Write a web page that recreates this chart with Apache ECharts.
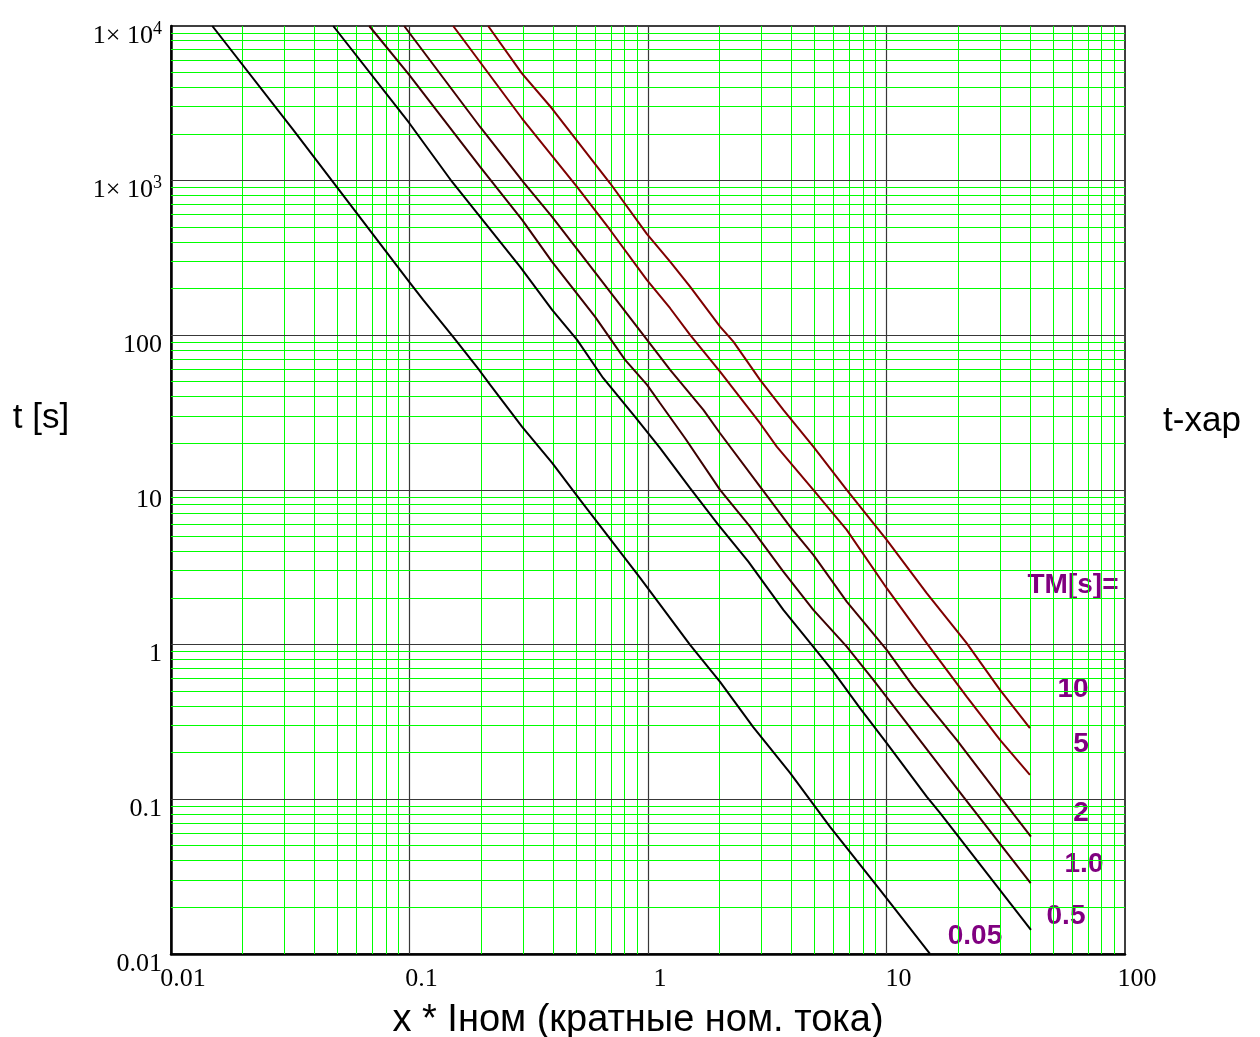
<!DOCTYPE html>
<html>
<head>
<meta charset="utf-8">
<script src="https://cdn.jsdelivr.net/npm/echarts@6/dist/echarts.min.js"></script>
<style>html,body{margin:0;padding:0;background:#fff}#c{width:1260px;height:1037px}</style>
</head>
<body>
<div id="c"></div>
<script>
// ---- data: [x (multiple of Iном), t (s)] ----
const tmNames = ['0.05', '0.5', '1.0', '2', '5', '10'];
const tm005 = [[0.0149,10000],[0.03255,2127],[0.0997,221.4],[0.1141,169.3],[0.1524,97.6],[0.1959,59.7],[0.2180,47.8],[0.2967,25.6],[0.3963,14.97],[0.5192,8.63],[0.9267,2.70],[1.501,0.997],[2.005,0.575],[2.757,0.294],[3.941,0.1484],[5.799,0.0664],[9.394,0.0260],[15.22,0.01003]];
const tm05 = [[0.04789,10000],[0.09971,2360],[0.1510,980.8],[0.1978,582.8],[0.2911,276.8],[0.3963,146.0],[0.5044,93.4],[0.6482,53.0],[0.8829,29.7],[1.124,18.63],[1.501,10.27],[1.973,5.949],[2.635,3.445],[3.694,1.678],[4.859,0.997],[5.984,0.6701],[7.742,0.3886],[10.02,0.2309],[14.74,0.1042],[16.76,0.0818],[40.32,0.01433]];
const tm1 = [[0.0678,10000],[0.09971,4823],[0.1978,1226],[0.2967,557.2],[0.3963,298.2],[0.6004,131.5],[0.8017,69.34],[0.9913,47.8],[1.124,36.4],[1.431,21.61],[2.005,10.01],[2.679,5.800],[3.694,2.968],[4.934,1.678],[6.811,0.972],[8.805,0.5921],[12.95,0.2744],[20.98,0.1042],[40.21,0.02873]];
const tm2 = [[0.09502,10000],[0.1978,2224],[0.2996,980.8],[0.3963,582.8],[0.5889,264.7],[0.9913,93.4],[1.238,59.74],[1.707,32.95],[2.005,23.28],[2.950,10.52],[3.941,5.800],[4.934,3.807],[6.811,1.899],[10.02,0.9256],[12.95,0.5361],[19.69,0.2424],[29.91,0.1042],[40.32,0.05747]];
const tm5 = [[0.1525,10000],[0.2959,2532],[0.5031,914.8],[0.6938,480.0],[0.9886,228.1],[1.238,149.7],[1.501,100.6],[2.005,58.26],[2.950,27.03],[3.466,19.08],[4.934,10.01],[6.811,5.522],[10.02,2.318],[14.74,1.023],[21.68,0.4620],[29.91,0.2424],[39.93,0.1440]];
const tm10 = [[0.2137,10000],[0.2959,4945],[0.3951,2938],[0.6938,962.0],[0.9886,452.3],[1.238,299.5],[1.501,206.4],[2.005,113.8],[2.280,91.07],[2.950,51.48],[3.694,32.95],[4.934,19.08],[6.811,10.01],[10.02,4.757],[14.74,2.152],[21.68,1.023],[29.91,0.5104],[39.93,0.2886]];
const tmColors = ['#000000', '#000000', '#3c0000', '#440000', '#800000', '#800000'];

// tick labels (by decade exponent)
const xTickLabels = {'-2':'0.01', '-1':'0.1', '0':'1', '1':'10', '2':'100'};
const yTickLabels = {'-2':'0.01', '-1':'0.1', '0':'1', '1':'10', '2':'100', '3':'1× 10{sup|3}', '4':'1× 10{sup|4}'};

// texts
const xTitle = 'x * Iном (кратные ном. тока)';
const yTitle = 't [s]';
const rightTitle = 't-xap';
const tmHeader = 'TM[s]=';

const X_MIN = 0.01, X_MAX = 100, Y_MIN = 0.01, Y_MAX = 10000;

const chart = echarts.init(document.getElementById('c'), null, {renderer: 'canvas'});

// grid lines: decades (major) and 2..9 (minor)
const gridX = [], gridY = [];
for (let d = -2; d <= 1; d++) for (let k = 2; k <= 9; k++) gridX.push([k * Math.pow(10, d), 1, 0]);
for (let d = -1; d <= 1; d++) gridX.push([Math.pow(10, d), 1, 1]);
for (let d = -2; d <= 3; d++) for (let k = 2; k <= 9; k++) gridY.push([1, k * Math.pow(10, d), 0]);
for (let d = -1; d <= 3; d++) gridY.push([1, Math.pow(10, d), 1]);

const serif = '"Liberation Serif", "Times New Roman", serif';
const sans = '"Liberation Sans", Arial, sans-serif';
const expOf = v => String(Math.round(Math.log10(v)));
const snap = p => Math.round(p - 0.5) + 0.5;

const gridStyle = major => major ? {stroke: '#383838', lineWidth: 1.2} : {stroke: '#00ff00', lineWidth: 1};

const curves = [tm005, tm05, tm1, tm2, tm5, tm10].map((d, i) => ({
  name: tmNames[i], type: 'line', data: d, showSymbol: false, smooth: false, z: 3,
  lineStyle: {color: tmColors[i], width: 2}, itemStyle: {color: tmColors[i]}, animation: false
}));

const purple = '#800080';
const labelStyle = (text, x, y) => ({type: 'text', x: x, y: y, style: {text: text, font: 'bold 28px ' + sans, fill: purple, textAlign: 'center', textVerticalAlign: 'middle'}});

chart.setOption({
  animation: false,
  backgroundColor: '#fff',
  grid: {left: 171, right: 135, top: 26, bottom: 83, show: true, borderColor: '#000', borderWidth: 1.5, backgroundColor: 'transparent'},
  xAxis: {
    type: 'log', logBase: 10, min: X_MIN, max: X_MAX, splitNumber: 4,
    axisLine: {show: true, onZero: false, lineStyle: {color: '#000', width: 2.5}},
    axisTick: {show: false},
    splitLine: {show: false},
    minorSplitLine: {show: false},
    axisLabel: {
      fontFamily: serif, fontSize: 26, color: '#000', margin: 12, padding: [0, 0, 0, 24],
      formatter: v => xTickLabels[expOf(v)] || ''
    }
  },
  yAxis: {
    type: 'log', logBase: 10, min: Y_MIN, max: Y_MAX, splitNumber: 6,
    axisLine: {show: true, onZero: false, lineStyle: {color: '#000', width: 2.5}},
    axisTick: {show: false},
    splitLine: {show: false},
    minorSplitLine: {show: false},
    axisLabel: {
      fontFamily: serif, fontSize: 26, color: '#000', margin: 9, padding: [20, 0, 0, 0],
      formatter: v => yTickLabels[expOf(v)] || '',
      rich: {sup: {fontFamily: serif, fontSize: 18, color: '#000', padding: [0, 0, 14, 0]}}
    }
  },
  series: [
    {
      type: 'custom', z: 1, silent: true, data: gridX,
      renderItem: (params, api) => {
        const v = api.value(0);
        const a = api.coord([v, Y_MIN]), b = api.coord([v, Y_MAX]);
        const x = snap(a[0]);
        return {type: 'line', shape: {x1: x, y1: a[1], x2: x, y2: b[1]}, style: gridStyle(api.value(2) === 1)};
      }
    },
    {
      type: 'custom', z: 1, silent: true, data: gridY,
      renderItem: (params, api) => {
        const v = api.value(1);
        const a = api.coord([X_MIN, v]), b = api.coord([X_MAX, v]);
        const y = snap(a[1]);
        return {type: 'line', shape: {x1: a[0], y1: y, x2: b[0], y2: y}, style: gridStyle(api.value(2) === 1)};
      }
    }
  ].concat(curves),
  graphic: [
    {type: 'text', x: 41, y: 418, style: {text: yTitle, font: '35px ' + sans, fill: '#000', textAlign: 'center', textVerticalAlign: 'middle'}},
    {type: 'text', x: 1202, y: 421, style: {text: rightTitle, font: '35px ' + sans, fill: '#000', textAlign: 'center', textVerticalAlign: 'middle'}},
    {type: 'text', x: 638, y: 1021, style: {text: xTitle, font: '38px ' + sans, fill: '#000', textAlign: 'center', textVerticalAlign: 'middle'}},
    labelStyle(tmHeader, 1073, 585),
    labelStyle(tmNames[5], 1073, 689),
    labelStyle(tmNames[4], 1081, 744),
    labelStyle(tmNames[3], 1081, 813),
    labelStyle(tmNames[2], 1084, 864),
    labelStyle(tmNames[1], 1066, 916),
    labelStyle(tmNames[0], 975, 936)
  ]
});
</script>
</body>
</html>
